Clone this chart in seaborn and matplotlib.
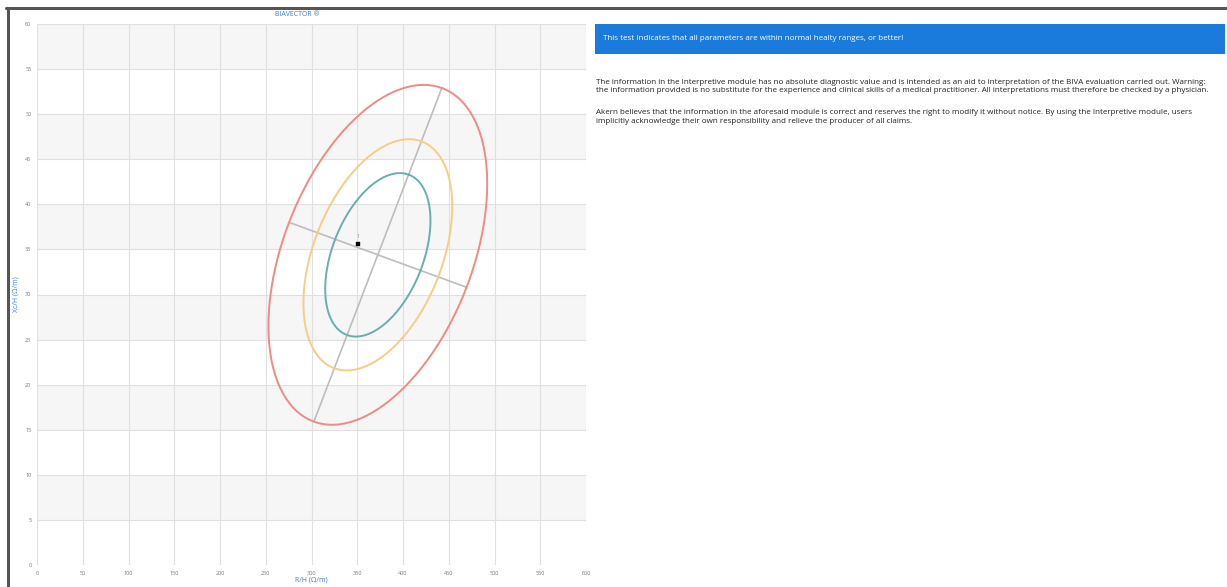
import numpy as np
import pandas as pd
import matplotlib
matplotlib.use("Agg")
import matplotlib.pyplot as plt
from matplotlib.lines import Line2D
from matplotlib.patches import Rectangle
import seaborn as sns

# Reference population (R/H, Xc/H) and the 95% ellipse half-axes
center = [372.5, 34.4]
major_half = [69.9, 18.5]     # toward the upper end of the long axis
minor_half = [97.0, -3.6]     # toward the right end of the short axis
levels = [0.95, 0.75, 0.50]
level_colors = ["#f08a84", "#f6cd86", "#6aaeae"]

# Subject measurement
subject_label = ["1"]
subject_r = [351.2]
subject_xc = [35.57]

x_ticks = list(range(0, 601, 50))
y_ticks = list(range(0, 61, 5))

banner_text = "This test Indicates that all parameters are within normal healty ranges, or better!"
note_lines = [
    "The information in the Interpretive module has no absolute diagnostic value and is intended as an aid to interpretation of the BIVA evaluation carried out. Warning:",
    "the information provided is no substitute for the experience and clinical skills of a medical practitioner. All interpretations must therefore be checked by a physician.",
    "Akern believes that the information in the aforesaid module is correct and reserves the right to modify it without notice. By using the Interpretive module, users",
    "implicitly acknowledge their own responsibility and relieve the producer of all claims.",
]

sns.set_style("white")
plt.rcParams["font.family"] = ["Open Sans", "DejaVu Sans"]

W, H = 1227, 587
fig = plt.figure(figsize=(W / 100, H / 100), dpi=100)
ax = fig.add_axes([37 / W, 1 - 565 / H, (586 - 37) / W, (565 - 24) / H])

# alternating horizontal bands
for lo in range(5, 60, 10):
    ax.axhspan(lo, lo + 5, color="#f6f6f6", zorder=0, lw=0)
for xv in x_ticks:
    ax.axvline(xv, color="#e0e0e0", lw=0.8, zorder=1)
for yv in y_ticks:
    ax.axhline(yv, color="#e0e0e0", lw=0.8, zorder=1)

c = np.array(center)
a = np.array(major_half)
b = np.array(minor_half)
k95 = np.sqrt(-2 * np.log(1 - 0.95))
t = np.linspace(0, 2 * np.pi, 241)
for lev, col in zip(levels, level_colors):
    s = np.sqrt(-2 * np.log(1 - lev)) / k95
    pts = c[None, :] + s * (np.cos(t)[:, None] * a[None, :] + np.sin(t)[:, None] * b[None, :])
    df = pd.DataFrame({"r": pts[:, 0], "xc": pts[:, 1]})
    sns.lineplot(data=df, x="r", y="xc", sort=False, estimator=None,
                 color=col, lw=1.4, ax=ax, zorder=3)

# principal axes of the 95% ellipse
for v in (a, b):
    seg = pd.DataFrame({"r": [c[0] - v[0], c[0] + v[0]], "xc": [c[1] - v[1], c[1] + v[1]]})
    sns.lineplot(data=seg, x="r", y="xc", sort=False, estimator=None,
                 color="#bdbdbd", lw=1.2, ax=ax, zorder=2)

pts_df = pd.DataFrame({"r": subject_r, "xc": subject_xc, "id": subject_label})
sns.scatterplot(data=pts_df, x="r", y="xc", marker="s", s=10, color="black",
                edgecolor="black", ax=ax, zorder=5)
for _, row in pts_df.iterrows():
    ax.text(row["r"], row["xc"] + 0.6, row["id"], fontsize=4, color="#b08a60",
            ha="center", va="bottom", zorder=5)

ax.set_xlim(0, 600)
ax.set_ylim(0, 60)
ax.set_xticks(x_ticks)
ax.set_yticks(y_ticks)
ax.tick_params(axis="both", labelsize=4, colors="#777777", length=0, pad=4)
for sp in ax.spines.values():
    sp.set_visible(False)
ax.set_xlabel("R/H (Ω/m)", fontsize=5, color="#3b7fd4", labelpad=1)
ax.set_ylabel("Xc/H (Ω/m)", fontsize=5, color="#3b7fd4", labelpad=4)
ax.set_title("BIAVECTOR ®", fontsize=5, color="#3b7fd4", pad=6, x=(297 - 37) / (586 - 37))

# outer frame lines
fig.add_artist(Line2D([6 / W, 1], [1 - 7.5 / H, 1 - 7.5 / H], color="#555555", lw=2.2))
fig.add_artist(Line2D([7.5 / W, 7.5 / W], [0, 1 - 7.5 / H], color="#555555", lw=2.2))

# banner
fig.add_artist(Rectangle((595 / W, 1 - 54 / H), (1225 - 595) / W, 30 / H,
                         facecolor="#1a7bdc", edgecolor="none"))
fig.text(603 / W, 1 - 39 / H, banner_text, fontsize=5.75, color="white",
         ha="left", va="center")

for yp, line in zip([82, 91, 113, 122], note_lines):
    fig.text(596 / W, 1 - yp / H, line, fontsize=5.75, color="#222222",
             ha="left", va="center")

fig.savefig("out.png", dpi=100, facecolor="white")
